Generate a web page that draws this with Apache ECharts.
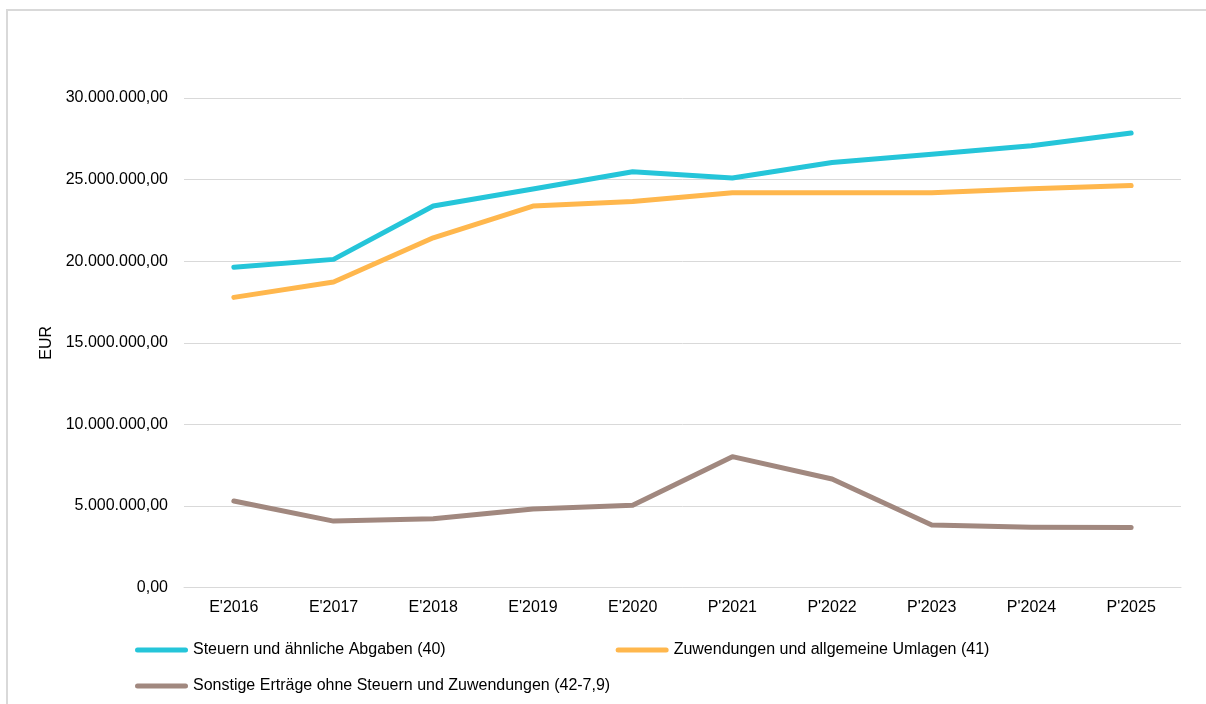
<!DOCTYPE html>
<html>
<head>
<meta charset="utf-8">
<script src="https://cdn.jsdelivr.net/npm/echarts@6/dist/echarts.min.js"></script>
<style>
html,body{margin:0;padding:0;background:#fff;}
#c{width:1206px;height:704px;}
</style>
</head>
<body>
<div id="c"></div>
<script>
const categories = ["E'2016","E'2017","E'2018","E'2019","E'2020","P'2021","P'2022","P'2023","P'2024","P'2025"];
const steuern = [19630000, 20110000, 23380000, 24420000, 25480000, 25100000, 26050000, 26550000, 27080000, 27850000];
const zuwendungen = [17780000, 18720000, 21430000, 23380000, 23650000, 24190000, 24200000, 24200000, 24440000, 24640000];
const sonstige = [5300000, 4070000, 4220000, 4810000, 5040000, 8020000, 6650000, 3830000, 3690000, 3670000];
const seriesNames = ["Steuern und ähnliche Abgaben (40)", "Zuwendungen und allgemeine Umlagen (41)", "Sonstige Erträge ohne Steuern und Zuwendungen (42-7,9)"];
const colors = ['#25C5D9', '#FFB74D', '#A1887F'];

function fmt(v){
  const s = Math.round(v).toString().replace(/\B(?=(\d{3})+(?!\d))/g, '.');
  return s + ',00';
}

const chart = echarts.init(document.getElementById('c'));
const font = "'Liberation Sans', Arial, sans-serif";
const barIcon = 'path://M2.5,0 L50.5,0 A2.5,2.5 0 0 1 50.5,5 L2.5,5 A2.5,2.5 0 0 1 2.5,0 Z';
function mk(name, data, color){
  return {
    name: name, type: 'line', data: data, symbol: 'none', showSymbol: false,
    lineStyle: {width: 5, color: color, cap: 'round', join: 'round'},
    itemStyle: {color: color}
  };
}
chart.setOption({
  animation: false,
  textStyle: {fontFamily: font},
  color: colors,
  graphic: [{
    type: 'rect', shape: {x: 7, y: 10, width: 1300, height: 800},
    style: {fill: 'none', stroke: '#d9d9d9', lineWidth: 2}, z: -10
  }],
  grid: {left: 184, right: 25, top: 98, bottom: 116.5, containLabel: false},
  legend: [{
    data: [seriesNames[0], seriesNames[1]],
    left: 135, top: 642, padding: 0, itemWidth: 53, itemHeight: 5, itemGap: 170, icon: barIcon,
    textStyle: {fontSize: 16, color: '#000', fontFamily: font}
  }, {
    data: [seriesNames[2]],
    left: 135, top: 678, padding: 0, itemWidth: 53, itemHeight: 5, icon: barIcon,
    textStyle: {fontSize: 16, color: '#000', fontFamily: font}
  }],
  xAxis: {
    type: 'category', data: categories, boundaryGap: true,
    axisLine: {lineStyle: {color: '#d9d9d9', width: 1}},
    axisTick: {show: false},
    axisLabel: {fontSize: 16, color: '#000', margin: 12, fontFamily: font}
  },
  yAxis: {
    type: 'value', min: 0, max: 30000000, interval: 5000000,
    name: 'EUR', nameLocation: 'middle', nameGap: 121, nameRotate: 90,
    nameTextStyle: {fontSize: 16, color: '#000', fontFamily: font},
    axisLine: {show: false}, axisTick: {show: false},
    axisLabel: {fontSize: 16, color: '#000', margin: 16, formatter: fmt, fontFamily: font},
    splitLine: {lineStyle: {color: '#d9d9d9', width: 1}}
  },
  series: [
    mk(seriesNames[0], steuern, colors[0]),
    mk(seriesNames[1], zuwendungen, colors[1]),
    mk(seriesNames[2], sonstige, colors[2])
  ]
});
</script>
</body>
</html>
